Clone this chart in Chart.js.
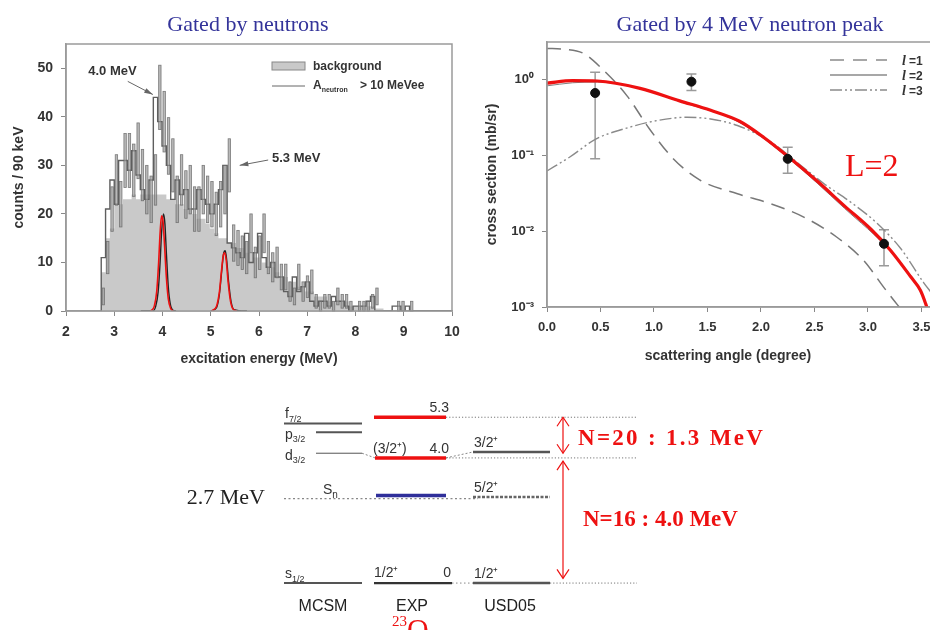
<!DOCTYPE html>
<html>
<head>
<meta charset="utf-8">
<title>23O levels</title>
<script src="https://cdn.jsdelivr.net/npm/chart.js@4.4.1/dist/chart.umd.min.js"></script>
<style>
  body { margin: 0; background: #fff; }
  #wrap { position: relative; width: 930px; height: 630px; overflow: hidden; }
  canvas { position: absolute; }
</style>
</head>
<body>
<div id="wrap">
  <canvas id="spectrum" width="470" height="370" style="left:0;top:0"></canvas>
  <canvas id="angular" width="460" height="370" style="left:470px;top:0"></canvas>
  <canvas id="levels" width="930" height="255" style="left:0;top:375px"></canvas>
</div>
<script>
// ---- excitation energy spectrum (90 keV bins) ----
const binStart = 2.73;
const binWidth = 0.09;
const neutronCounts = [3, 11, 21, 27, 22, 31, 31, 29, 33, 28, 25, 23, 27, 44, 39, 34, 30, 23, 27, 24,
  25, 21, 21, 25, 23, 22, 20, 22, 25, 30, 14, 13, 12, 11, 16, 10, 12, 16, 11, 9,
  10, 7, 7, 4, 3, 7, 4, 5, 6, 2, 1, 2, 2, 1, 3, 2, 2, 1, 0, 1,
  1, 1, 2, 3, 0, 0, 0, 0, 1, 1, 0, 1, 0];
const backgroundCounts = [1, 8, 15, 17, 22, 22, 23, 23, 24, 23, 24, 24, 24, 24, 24, 24, 23, 23, 22, 22,
  21, 21, 20, 19, 19, 18, 17, 16, 15, 15, 14, 14, 13, 13, 12, 12, 11, 11, 10, 9,
  9, 8, 7, 7, 6, 6, 5, 5, 4, 4, 3, 3, 3, 2, 2, 2, 2, 2, 1, 1,
  1, 1, 1, 1, 0.5, 0.5, 0, 0, 0, 0, 0, 0, 0];
const energyTicks = [2, 3, 4, 5, 6, 7, 8, 9, 10];
const countTicks = [0, 10, 20, 30, 40, 50];
// fitted peak shapes [energy, counts]
const peak40Fit = [[3.76, 0], [3.83, 1], [3.88, 4], [3.92, 10], [3.95, 16], [3.98, 19.6], [4.01, 18.5], [4.04, 14], [4.08, 7], [4.12, 2.5], [4.17, 0.5], [4.22, 0]];
const peak40Sum = [[3.55, 0], [3.80, 0], [3.86, 1], [3.91, 4], [3.95, 10], [3.98, 16], [4.02, 20], [4.05, 18], [4.08, 12], [4.12, 5], [4.16, 1.5], [4.21, 0.2], [4.28, 0]];
const peak53Fit = [[5.02, 0], [5.12, 1], [5.18, 4], [5.22, 8], [5.26, 11.5], [5.29, 12], [5.32, 10.5], [5.36, 6], [5.41, 2], [5.47, 0.3], [5.54, 0]];
const peak53Sum = [[5.00, 0], [5.12, 0.7], [5.18, 3.5], [5.23, 8.5], [5.27, 12], [5.30, 12.4], [5.33, 10.5], [5.37, 6], [5.42, 2], [5.48, 0.3], [5.75, 0]];

// ---- angular distribution ----
const angles = [0.45, 1.35, 2.25, 3.15];
const sigma = [0.66, 0.93, 0.0895, 0.0068];
const sigmaHigh = [1.24, 1.17, 0.127, 0.0104];
const sigmaLow = [0.0895, 0.71, 0.058, 0.0035];
const curveL1 = [[0, 2.55], [0.15, 2.5], [0.34, 2.2], [0.52, 1.35], [0.75, 0.6], [0.96, 0.22], [1.18, 0.09], [1.43, 0.047], [1.78, 0.031], [2.09, 0.023], [2.4, 0.0153], [2.71, 0.0083], [2.96, 0.0041], [3.15, 0.0018], [3.28, 0.00105], [3.32, 0.0009]];
const curveL2 = [[0, 0.82], [0.24, 0.9], [0.47, 0.92], [0.87, 0.75], [1.24, 0.51], [1.8, 0.27], [2.27, 0.088], [2.78, 0.02], [3.21, 0.0054], [3.49, 0.0016], [3.56, 0.0009]];
const curveL3 = [[0, 0.062], [0.21, 0.094], [0.46, 0.164], [0.71, 0.22], [1.03, 0.286], [1.31, 0.316], [1.53, 0.3], [1.78, 0.246], [2.09, 0.15], [2.34, 0.08], [2.59, 0.042], [2.84, 0.024], [3.09, 0.0125], [3.31, 0.0058], [3.52, 0.0021], [3.6, 0.0015]];
const curveFitL2 = [[0, 0.89], [0.24, 0.96], [0.47, 0.95], [0.87, 0.76], [1.24, 0.52], [1.53, 0.39], [1.8, 0.28], [2.03, 0.17], [2.25, 0.097], [2.53, 0.045], [2.78, 0.0215], [3.03, 0.0105], [3.21, 0.0056], [3.4, 0.0025], [3.49, 0.00166], [3.54, 0.0011], [3.56, 0.0009]];
const angleTicks = [0, 0.5, 1.0, 1.5, 2.0, 2.5, 3.0, 3.5];
const logTicks = [1, 0.1, 0.01, 0.001];
const logTickLabels = ['10\u2070', '10\u207B\u00B9', '10\u207B\u00B2', '10\u207B\u00B3'];

// ---- level scheme (MeV) ----
const mcsmOrbitals = ['s', 'd', 'p', 'f'];
const mcsmSubs = ['1/2', '3/2', '3/2', '7/2'];
const mcsmEnergies = [0, 4.15, 4.82, 5.1];
const expEnergies = [0, 4.0, 5.3];
const expSpins = ['1/2\u207A', '(3/2\u207A)', ''];
const usdEnergies = [0, 2.75, 4.19];
const usdSpins = ['1/2\u207A', '5/2\u207A', '3/2\u207A'];
const snEnergy = 2.7;
const expSnBar = 2.8;

const SANS = "'Liberation Sans', Arial, sans-serif";
const SERIF = "'Liberation Serif', 'Times New Roman', serif";
const TITLE_BLUE = '#34349a';
const RED = '#ee1111';

const pts = arr => arr.map(p => ({ x: p[0], y: p[1] }));
const fixedTicks = list => s => { s.ticks = list.map(v => ({ value: v })); };

function stepPoints(counts) {
  const out = [{ x: binStart, y: 0 }];
  counts.forEach((c, i) => out.push({ x: binStart + i * binWidth, y: c }));
  out.push({ x: binStart + counts.length * binWidth, y: 0 });
  out.push({ x: 10, y: 0 });
  return out;
}

function text(ctx, str, x, y, font, color, align, baseline) {
  ctx.font = font;
  ctx.fillStyle = color;
  ctx.textAlign = align || 'left';
  ctx.textBaseline = baseline || 'alphabetic';
  ctx.fillText(str, x, y);
  return ctx.measureText(str).width;
}

function arrowLine(ctx, x1, y1, x2, y2, color) {
  const a = Math.atan2(y2 - y1, x2 - x1);
  ctx.save();
  ctx.strokeStyle = color;
  ctx.fillStyle = color;
  ctx.lineWidth = 1;
  ctx.beginPath(); ctx.moveTo(x1, y1); ctx.lineTo(x2, y2); ctx.stroke();
  ctx.beginPath();
  ctx.moveTo(x2, y2);
  ctx.lineTo(x2 - 9 * Math.cos(a - 0.28), y2 - 9 * Math.sin(a - 0.28));
  ctx.lineTo(x2 - 9 * Math.cos(a + 0.28), y2 - 9 * Math.sin(a + 0.28));
  ctx.closePath(); ctx.fill();
  ctx.restore();
}

// plot box; the right side can be left open when it runs off the page
function frame(chart, openRight) {
  const { ctx, chartArea: a } = chart;
  ctx.save();
  ctx.strokeStyle = '#9a9a9a';
  ctx.lineWidth = 1.5;
  ctx.beginPath();
  if (openRight) {
    ctx.moveTo(a.right, a.top); ctx.lineTo(a.left, a.top);
    ctx.lineTo(a.left, a.bottom); ctx.lineTo(a.right, a.bottom);
  } else {
    ctx.rect(a.left, a.top, a.right - a.left, a.bottom - a.top);
  }
  ctx.stroke();
  ctx.restore();
}

const noSidePadding = s => { s.paddingLeft = 0; s.paddingRight = 0; };
const tickFont = { family: SANS, size: 13, weight: 'bold' };
const axisTitleFont = { family: SANS, size: 14, weight: 'bold' };

// ---------- spectrum ----------
const spectrumDecor = {
  id: 'spectrumDecor',
  afterDatasetDraw(chart, args) {
    if (args.index !== 4) return;
    // statistical error of each bin, drawn as a narrow box
    const { ctx, scales: { x, y } } = chart;
    ctx.save();
    ctx.fillStyle = 'rgba(155,155,155,0.7)';
    ctx.strokeStyle = 'rgba(105,105,105,0.85)';
    ctx.lineWidth = 0.8;
    neutronCounts.forEach((c, i) => {
      if (c <= 0) return;
      const e = Math.sqrt(c);
      const px = x.getPixelForValue(binStart + (i + 0.5) * binWidth);
      const top = y.getPixelForValue(c + e);
      const bot = y.getPixelForValue(Math.max(c - e, 0));
      ctx.fillRect(px - 1.2, top, 2.4, bot - top);
      ctx.strokeRect(px - 1.2, top, 2.4, bot - top);
    });
    ctx.restore();
  },
  afterDraw(chart) {
    const { ctx, scales: { x, y } } = chart;
    frame(chart, false);
    text(ctx, 'Gated by neutrons', 248, 25, '22px ' + SERIF, TITLE_BLUE, 'center', 'middle');

    // legend
    ctx.save();
    ctx.fillStyle = '#c9c9c9';
    ctx.strokeStyle = '#888';
    ctx.lineWidth = 1;
    ctx.fillRect(272, 62, 33, 8);
    ctx.strokeRect(272, 62, 33, 8);
    ctx.beginPath(); ctx.moveTo(272, 86); ctx.lineTo(305, 86); ctx.strokeStyle = '#666'; ctx.stroke();
    ctx.restore();
    text(ctx, 'background', 313, 70, 'bold 12px ' + SANS, '#333');
    const w = text(ctx, 'A', 313, 89, 'bold 12px ' + SANS, '#333');
    text(ctx, 'neutron', 313 + w, 92, 'bold 7px ' + SANS, '#333');
    text(ctx, '> 10 MeVee', 360, 89, 'bold 12px ' + SANS, '#333');

    // peak labels
    text(ctx, '4.0 MeV', x.getPixelForValue(2.46), y.getPixelForValue(49.4), 'bold 13px ' + SANS, '#333', 'left', 'middle');
    arrowLine(ctx, x.getPixelForValue(3.28), y.getPixelForValue(47.3), x.getPixelForValue(3.80), y.getPixelForValue(44.6), '#666');
    text(ctx, '5.3 MeV', x.getPixelForValue(6.27), y.getPixelForValue(31.4), 'bold 13px ' + SANS, '#333', 'left', 'middle');
    arrowLine(ctx, x.getPixelForValue(6.19), y.getPixelForValue(31.1), x.getPixelForValue(5.6), y.getPixelForValue(30.0), '#666');
  }
};

new Chart(document.getElementById('spectrum'), {
  type: 'line',
  data: {
    datasets: [
      { data: pts(peak40Fit), borderColor: RED, borderWidth: 1.6, pointRadius: 0, cubicInterpolationMode: 'monotone' },
      { data: pts(peak53Fit), borderColor: RED, borderWidth: 1.6, pointRadius: 0, cubicInterpolationMode: 'monotone' },
      { data: pts(peak40Sum), borderColor: '#222', borderWidth: 1.4, pointRadius: 0, cubicInterpolationMode: 'monotone' },
      { data: pts(peak53Sum), borderColor: '#222', borderWidth: 1.4, pointRadius: 0, cubicInterpolationMode: 'monotone' },
      { data: stepPoints(neutronCounts), stepped: 'after', borderColor: '#5f5f5f', borderWidth: 1.4, pointRadius: 0 },
      { data: stepPoints(backgroundCounts), stepped: 'after', fill: 'origin', backgroundColor: '#c9c9c9', borderWidth: 0, pointRadius: 0 }
    ]
  },
  options: {
    responsive: false,
    animation: false,
    events: [],
    layout: { autoPadding: false, padding: { top: 44, right: 18, left: 0, bottom: 0 } },
    plugins: { legend: { display: false }, tooltip: { enabled: false } },
    scales: {
      x: {
        type: 'linear', min: 2, max: 10,
        afterBuildTicks: fixedTicks(energyTicks),
        ticks: { color: '#333', font: { ...tickFont, size: 14 }, padding: 8, maxRotation: 0 },
        grid: { drawOnChartArea: false, tickLength: 5, color: '#888' },
        border: { color: '#9a9a9a', width: 1.5 },
        title: { display: true, text: 'excitation energy (MeV)', color: '#333', font: axisTitleFont, padding: { top: 0, bottom: 2 } },
        afterFit: s => { s.height = 59; noSidePadding(s); }
      },
      y: {
        min: 0, max: 55,
        afterBuildTicks: fixedTicks(countTicks),
        ticks: { color: '#333', font: { ...tickFont, size: 14 }, padding: 8 },
        grid: { drawOnChartArea: false, tickLength: 5, color: '#888' },
        border: { color: '#9a9a9a', width: 1.5 },
        title: { display: true, text: 'counts / 90 keV', color: '#333', font: axisTitleFont, padding: { top: 11, bottom: 0 } },
        afterFit: s => { s.width = 66; }
      }
    }
  },
  plugins: [spectrumDecor]
});

// ---------- angular distribution ----------
const angularDecor = {
  id: 'angularDecor',
  beforeDatasetsDraw(chart) {
    const { ctx, scales: { x, y } } = chart;
    ctx.save();
    ctx.strokeStyle = '#9a9a9a';
    ctx.lineWidth = 1.5;
    angles.forEach((a, i) => {
      const px = x.getPixelForValue(a);
      const top = y.getPixelForValue(sigmaHigh[i]);
      const bot = y.getPixelForValue(sigmaLow[i]);
      ctx.beginPath();
      ctx.moveTo(px, top); ctx.lineTo(px, bot);
      ctx.moveTo(px - 5, top); ctx.lineTo(px + 5, top);
      ctx.moveTo(px - 5, bot); ctx.lineTo(px + 5, bot);
      ctx.stroke();
    });
    ctx.restore();
  },
  afterDraw(chart) {
    const { ctx } = chart;
    frame(chart, true);
    text(ctx, 'Gated by 4 MeV neutron peak', 280, 25, '22px ' + SERIF, TITLE_BLUE, 'center', 'middle');
    text(ctx, 'scattering angle (degree)', 258, 356, 'bold 14px ' + SANS, '#333', 'center', 'middle');
    text(ctx, 'L=2', 375, 168, '32px ' + SERIF, RED, 'left', 'middle');

    // legend
    const rows = [
      { y: 60, dash: [14, 9], label: '=1' },
      { y: 75, dash: [], label: '=2' },
      { y: 90, dash: [12, 3, 2, 3, 2, 3], label: '=3' }
    ];
    rows.forEach(r => {
      ctx.save();
      ctx.strokeStyle = '#8a8a8a';
      ctx.lineWidth = 1.4;
      ctx.setLineDash(r.dash);
      ctx.beginPath(); ctx.moveTo(360, r.y); ctx.lineTo(417, r.y); ctx.stroke();
      ctx.restore();
      const w = text(ctx, 'l', 432, r.y + 5, 'italic bold 14px ' + SERIF, '#333');
      text(ctx, r.label, 432 + w + 3, r.y + 5, 'bold 12px ' + SANS, '#333');
    });
  }
};

const curveStyle = { pointRadius: 0, cubicInterpolationMode: 'monotone', fill: false };

new Chart(document.getElementById('angular'), {
  type: 'line',
  data: {
    datasets: [
      { data: angles.map((a, i) => ({ x: a, y: sigma[i] })), showLine: false, pointRadius: 4.5, pointBackgroundColor: '#111', pointBorderColor: '#111' },
      { data: pts(curveFitL2), borderColor: RED, borderWidth: 3.2, ...curveStyle },
      { data: pts(curveL2), borderColor: '#808080', borderWidth: 1, ...curveStyle },
      { data: pts(curveL1), borderColor: '#777', borderWidth: 1.5, borderDash: [14, 8], ...curveStyle },
      { data: pts(curveL3), borderColor: '#8a8a8a', borderWidth: 1.4, borderDash: [12, 3, 2, 3, 2, 3], ...curveStyle }
    ]
  },
  options: {
    responsive: false,
    animation: false,
    events: [],
    layout: { autoPadding: false, padding: { top: 42, right: 0, left: 0, bottom: 0 } },
    plugins: { legend: { display: false }, tooltip: { enabled: false } },
    scales: {
      x: {
        type: 'linear', min: 0, max: 3.58,
        afterBuildTicks: fixedTicks(angleTicks),
        ticks: { color: '#333', font: tickFont, padding: 8, maxRotation: 0, callback: v => Number(v).toFixed(1) },
        grid: { drawOnChartArea: false, tickLength: 5, color: '#888' },
        border: { color: '#9a9a9a', width: 1.5 },
        afterFit: s => { s.height = 63; noSidePadding(s); }
      },
      y: {
        type: 'logarithmic', min: 0.001, max: 3.1,
        afterBuildTicks: fixedTicks(logTicks),
        ticks: { color: '#333', font: tickFont, padding: 8, callback: v => logTickLabels[logTicks.findIndex(t => Math.abs(t - v) / t < 1e-6)] },
        grid: { drawOnChartArea: false, tickLength: 5, color: '#888' },
        border: { color: '#9a9a9a', width: 1.5 },
        title: { display: true, text: 'cross section (mb/sr)', color: '#333', font: axisTitleFont, padding: { top: 14, bottom: 0 } },
        afterFit: s => { s.width = 77; }
      }
    }
  },
  plugins: [angularDecor]
});

// ---------- level scheme ----------
const MCSM_X = [2.84, 3.62];
const MCSM_SHORT = 3.16;
const EXP_X = [3.74, 4.46];
const USD_X = [4.73, 5.50];
const REF_END = 6.37;
const ARROW_X = 5.63;

function seg(x1, x2, e1, e2, color, width, dash) {
  return { data: [{ x: x1, y: e1 }, { x: x2, y: e2 }], borderColor: color, borderWidth: width, borderDash: dash || [], pointRadius: 0, fill: false };
}

const levelSets = [];
// experimental levels
levelSets.push(seg(EXP_X[0], EXP_X[1] + 0.06, expEnergies[0], expEnergies[0], '#333', 2.2));
levelSets.push(seg(EXP_X[0] + 0.01, EXP_X[1], expEnergies[1], expEnergies[1], RED, 3.5));
levelSets.push(seg(EXP_X[0], EXP_X[1], expEnergies[2], expEnergies[2], RED, 3.5));
levelSets.push(seg(EXP_X[0] + 0.02, EXP_X[1], expSnBar, expSnBar, '#2f2f9a', 3.5));
// shell-model levels
mcsmEnergies.forEach((e, i) => {
  const start = (i === 0 || i === 3) ? MCSM_X[0] : MCSM_SHORT;
  levelSets.push(seg(start, MCSM_X[1], e, e, '#555', i === 1 ? 1 : 2));
});
usdEnergies.forEach((e, i) => {
  levelSets.push(seg(USD_X[0], USD_X[1], e, e, i === 1 ? '#666' : '#555', 2.4, i === 1 ? [3, 1.5] : []));
});
// separation energy and connectors
levelSets.push(seg(MCSM_X[0], USD_X[0] + 0.05, snEnergy, snEnergy, '#888', 1.3, [2, 2.5]));
levelSets.push(seg(MCSM_X[1], EXP_X[0] + 0.01, mcsmEnergies[1], expEnergies[1], '#888', 1, [2, 2]));
levelSets.push(seg(EXP_X[1], USD_X[0], expEnergies[1], usdEnergies[2], '#888', 1, [2, 2]));
levelSets.push(seg(EXP_X[1] + 0.06, USD_X[0], 0, 0, '#888', 1, [1.5, 2.5]));
// reference lines to the gap arrows
levelSets.push(seg(EXP_X[1], REF_END, expEnergies[2], expEnergies[2], '#777', 1, [1.2, 2]));
levelSets.push(seg(EXP_X[1], REF_END, expEnergies[1], expEnergies[1], '#777', 1, [1.2, 2]));
levelSets.push(seg(USD_X[1], REF_END, 0, 0, '#777', 1, [1.2, 2]));
// gap arrows
levelSets.push(seg(ARROW_X, ARROW_X, expEnergies[2], expEnergies[1] + 0.15, RED, 1.2));
levelSets.push(seg(ARROW_X, ARROW_X, expEnergies[1] - 0.1, 0.15, RED, 1.2));

const levelDecor = {
  id: 'levelDecor',
  afterDraw(chart) {
    const { ctx, scales: { x, y } } = chart;
    const X = v => x.getPixelForValue(v);
    const Y = v => y.getPixelForValue(v);

    // arrow heads
    ctx.save();
    ctx.strokeStyle = RED;
    ctx.lineWidth = 1.2;
    const head = (px, py, dir) => {
      ctx.beginPath();
      ctx.moveTo(px - 6, py + dir * 9); ctx.lineTo(px, py); ctx.lineTo(px + 6, py + dir * 9);
      ctx.stroke();
    };
    head(X(ARROW_X), Y(expEnergies[2]), 1);
    head(X(ARROW_X), Y(expEnergies[1] + 0.15), -1);
    head(X(ARROW_X), Y(expEnergies[1] - 0.1), 1);
    head(X(ARROW_X), Y(0.15), -1);
    ctx.restore();

    const lf = '14px ' + SANS, sf = '9px ' + SANS, col = '#333';
    // orbital labels
    mcsmEnergies.forEach((e, i) => {
      const above = (i === 0 || i === 3);
      const base = above ? Y(e) - 5 : Y(e) + 7;
      const w = text(ctx, mcsmOrbitals[i], X(MCSM_X[0]) + 1, base, lf, col);
      text(ctx, mcsmSubs[i], X(MCSM_X[0]) + 1 + w, base + (above ? 4 : 3), sf, col);
    });
    // separation energy
    const sw = text(ctx, 'S', X(3.23), Y(snEnergy) - 5, lf, col);
    text(ctx, 'n', X(3.23) + sw, Y(snEnergy) - 1, '10px ' + SANS, col);
    text(ctx, '2.7 MeV', 265, Y(snEnergy), '22px ' + SERIF, '#222', 'right', 'middle');

    // experimental labels
    text(ctx, '5.3', X(EXP_X[1]) + 3, Y(expEnergies[2]) - 5, lf, col, 'right');
    text(ctx, '4.0', X(EXP_X[1]) + 3, Y(expEnergies[1]) - 5, lf, col, 'right');
    text(ctx, expSpins[1], X(EXP_X[0]) - 1, Y(expEnergies[1]) - 5, lf, col);
    text(ctx, '0', X(EXP_X[1]) + 5, Y(0) - 6, lf, col, 'right');
    text(ctx, expSpins[0], X(EXP_X[0]), Y(0) - 6, lf, col);
    // USD05 labels
    usdEnergies.forEach((e, i) => text(ctx, usdSpins[i], X(USD_X[0]) + 1, Y(e) - 5, lf, col));

    // column names
    text(ctx, 'MCSM', 323, Y(0) + 28, '16px ' + SANS, '#222', 'center');
    text(ctx, 'EXP', 412, Y(0) + 28, '16px ' + SANS, '#222', 'center');
    text(ctx, 'USD05', 510, Y(0) + 28, '16px ' + SANS, '#222', 'center');
    const ow = text(ctx, '23', 392, 251, '15px ' + SERIF, RED);
    text(ctx, 'O', 392 + ow, 264, '30px ' + SERIF, RED);

    // shell gaps
    ctx.save();
    ctx.letterSpacing = '2.3px';
    text(ctx, 'N=20 : 1.3 MeV', 578, Y((expEnergies[2] + expEnergies[1]) / 2) + 1, 'bold 23px ' + SERIF, RED, 'left', 'middle');
    ctx.restore();
    text(ctx, 'N=16 : 4.0 MeV', 583, 145, 'bold 23px ' + SERIF, RED, 'left', 'middle');
  }
};

new Chart(document.getElementById('levels'), {
  type: 'line',
  data: { datasets: levelSets },
  options: {
    responsive: false,
    animation: false,
    events: [],
    layout: { autoPadding: false, padding: 0 },
    plugins: { legend: { display: false }, tooltip: { enabled: false } },
    scales: {
      x: { type: 'linear', min: 0, max: 9.3, display: false },
      y: { type: 'linear', min: -1.5, max: 6.65, display: false }
    }
  },
  plugins: [levelDecor]
});
</script>
</body>
</html>
